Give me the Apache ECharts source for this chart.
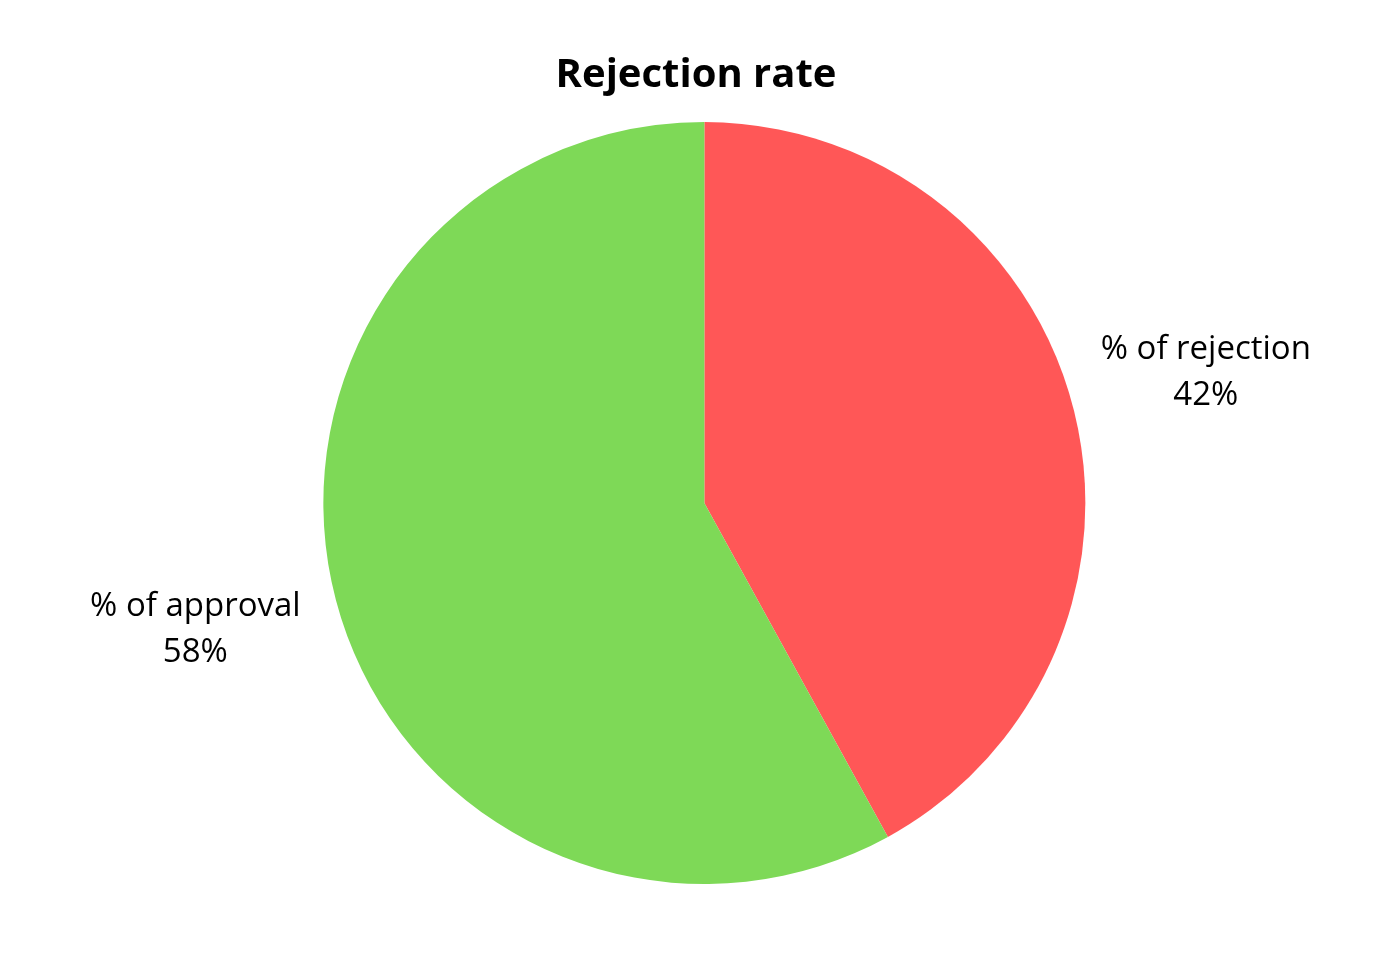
<!DOCTYPE html>
<html>
<head>
<meta charset="utf-8">
<script src="https://cdn.jsdelivr.net/npm/echarts@6/dist/echarts.min.js"></script>
<style>
html,body{margin:0;padding:0;background:#fff;}
#chart{width:1392px;height:961px;}
</style>
</head>
<body>
<div id="chart"></div>
<script>
const titleText = 'Rejection rate';
const categories = ['% of rejection', '% of approval'];
const values = [42, 58];
const colors = ['#FF5757', '#7ED957'];

const labelLineLengths = [145, 129];
const labelDistances = [-118, -95];

const chart = echarts.init(document.getElementById('chart'), null, {renderer: 'canvas'});
chart.setOption({
  animation: false,
  backgroundColor: '#ffffff',
  title: {
    text: titleText,
    left: 'center',
    top: 51,
    textStyle: {fontFamily: 'Open Sans', fontWeight: 'bold', fontSize: 40, color: '#000'}
  },
  series: [{
    type: 'pie',
    center: ['50.6%', '52.35%'],
    radius: 381,
    startAngle: 90,
    clockwise: true,
    avoidLabelOverlap: false,
    silent: true,
    data: categories.map((c, i) => ({
      name: c,
      value: values[i],
      itemStyle: {color: colors[i]},
      label: {distanceToLabelLine: labelDistances[i]},
      labelLine: {length: labelLineLengths[i]}
    })),
    label: {
      show: true,
      position: 'outside',
      formatter: '{a|{b}}\n{a|{d}%}',
      rich: {
        a: {width: 220, align: 'center', fontFamily: 'Open Sans', fontSize: 33, lineHeight: 46, color: '#000'}
      }
    },
    labelLine: {show: false, length2: 0},
    emphasis: {disabled: true}
  }]
});
</script>
</body>
</html>
